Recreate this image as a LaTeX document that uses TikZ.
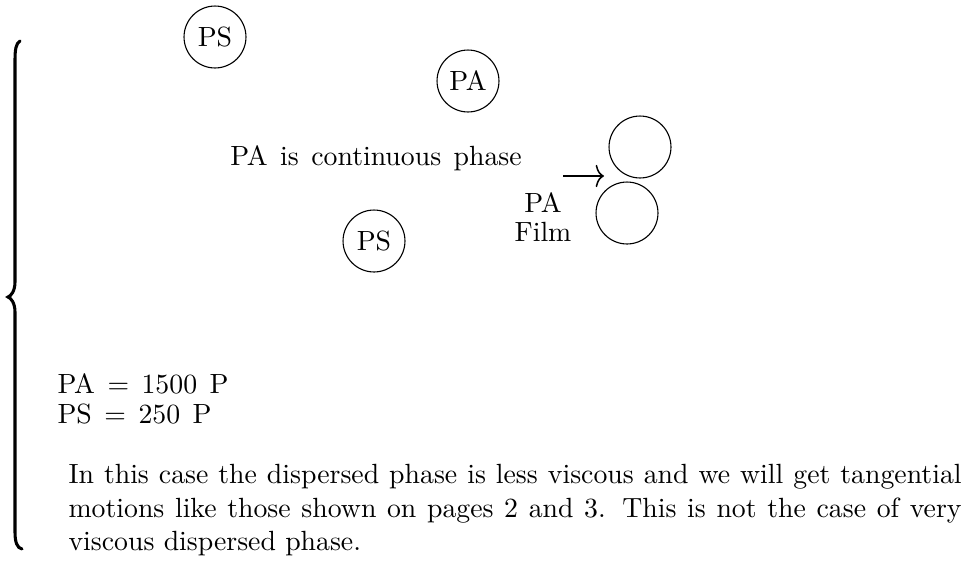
\documentclass[tikz,border=0pt]{standalone}
\usepackage{amsmath}
\usetikzlibrary{arrows.meta}
\newcommand{\widesp}{\spaceskip=4.5pt plus 1pt\relax}
\tikzset{
	drop/.style     ={circle, draw=black, minimum size=22.3pt, inner sep=0pt},
	filmarrow/.style={-{Computer Modern Rightarrow[length=3pt, width=8pt]}, line width=0.55pt},
	txt/.style      ={anchor=base west, inner sep=0pt, execute at begin node=\widesp},
	brace/.style    ={line width=1.1pt, line cap=round},
}
\begin{document}
\begin{tikzpicture}[x=0.36pt, y=-0.36pt]
	\useasboundingbox (0,0) rectangle (974,567);
	\node[drop] (psTop) at (215,37) {PS};
	\node[drop] (paTop) at (468,81) {PA};
	\node[drop] (psLow) at (374,241) {PS};
	\node[drop] (filmUp) at (640,147) {};
	\node[drop] (filmLow) at (627,213) {};
	\node[txt, anchor=base] (contPhase) at (376,165) {PA is continuous phase};
	\node[anchor=center, inner sep=0pt, align=center] (filmLbl) at (543,217) {PA\\[-1.6pt]Film};
	\coordinate (arrTail) at (563,176);
	\coordinate (arrHead) at (604,176);
	\draw[filmarrow] (arrTail) -- (arrHead);
	\draw[brace] (20,41) .. controls (16,43) and (15,50) .. (15,60) -- (15,282) .. controls (15,291) and (11,296) .. (8,297) .. controls (11,298) and (15,303) .. (15,312) -- (15,532) .. controls (15,542) and (17,548) .. (22,549);
	\node[txt] (paVisc) at (57,393) {PA $=$ 1500 P};
	\node[txt] (psVisc) at (57,423) {PS $=$ 250 P};
	\node[anchor=north west, inner sep=0pt, text width=321.5pt, align=justify] (note) at (68,464) {In this case the dispersed phase is less viscous and we will get tangential\linebreak motions like those shown on pages 2 and 3.  This is not the case of very\linebreak viscous dispersed phase.};
\end{tikzpicture}
\end{document}
